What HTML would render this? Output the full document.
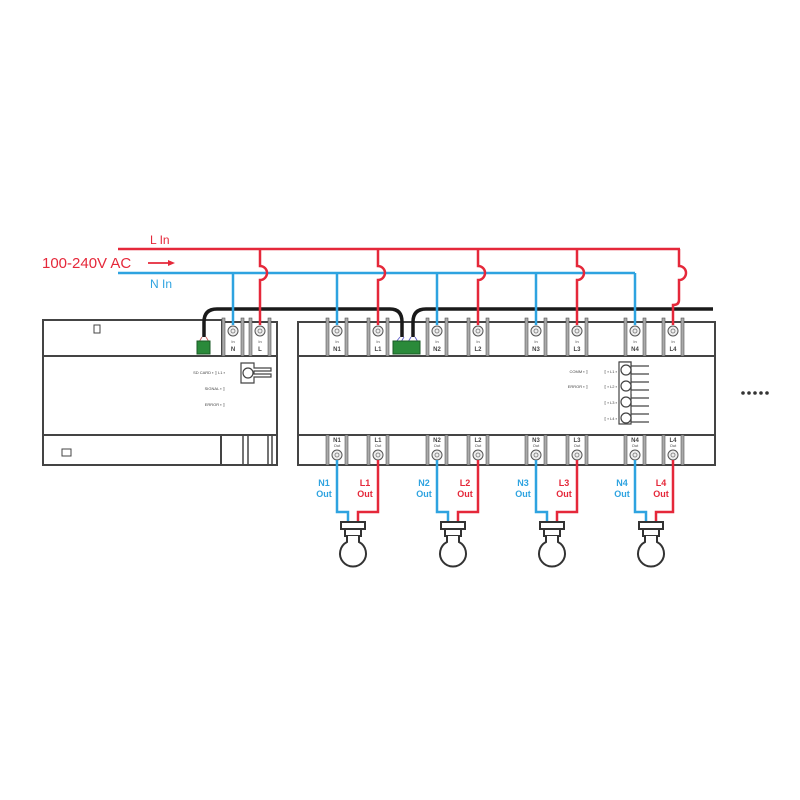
<!DOCTYPE html>
<html><head><meta charset="utf-8"><style>
html,body{margin:0;padding:0;background:#fff;width:800px;height:800px;overflow:hidden}
svg{display:block}
text{font-family:"Liberation Sans",sans-serif}
</style></head><body>
<svg width="800" height="800" viewBox="0 0 800 800" xmlns="http://www.w3.org/2000/svg">
<defs>
<g id="tt">
 <rect x="-11" y="318" width="3" height="38" fill="#aaa" stroke="#555" stroke-width="0.6"/>
 <rect x="8" y="318" width="3" height="38" fill="#aaa" stroke="#555" stroke-width="0.6"/>
 <circle cx="0" cy="331" r="5" fill="#eee" stroke="#555" stroke-width="1"/>
 <circle cx="0" cy="331" r="2" fill="none" stroke="#777" stroke-width="0.8"/>
</g>
<g id="tb">
 <rect x="-11" y="435" width="3" height="30" fill="#aaa" stroke="#555" stroke-width="0.6"/>
 <rect x="8" y="435" width="3" height="30" fill="#aaa" stroke="#555" stroke-width="0.6"/>
 <circle cx="0" cy="455" r="5" fill="#eee" stroke="#555" stroke-width="1"/>
 <circle cx="0" cy="455" r="2" fill="none" stroke="#777" stroke-width="0.8"/>
</g>
<g id="bulb">
 <rect x="-12" y="522" width="24" height="7" fill="#fff" stroke="#333" stroke-width="2"/>
 <rect x="-8" y="529" width="16" height="7" fill="#fff" stroke="#333" stroke-width="2"/>
 <path d="M-6 536 L-6 542 A13 13 0 1 0 6 542 L6 536" fill="#fff" stroke="#333" stroke-width="2"/>
</g>
</defs>

<!-- Left device -->
<g fill="none" stroke="#444" stroke-width="2">
 <rect x="43" y="320" width="179" height="36"/>
 <rect x="43" y="356" width="234" height="79"/>
 <rect x="43" y="435" width="178" height="30"/>
 <path d="M222 322 H277 V356 M221 435 H277 V465 H221"/>
 <rect x="94" y="325" width="6" height="8" stroke-width="1"/>
 <rect x="62" y="449" width="9" height="7" stroke-width="1"/>
</g>
<use href="#tt" x="233"/><use href="#tt" x="260"/>
<use href="#tb" x="245" transform="translate(0,0)" opacity="0"/>
<g stroke="#444" stroke-width="1.5"><line x1="243" y1="435" x2="243" y2="465"/><line x1="248" y1="435" x2="248" y2="465"/><line x1="268" y1="435" x2="268" y2="465"/><line x1="272" y1="435" x2="272" y2="465"/></g>
<text x="233" y="343" font-size="4" text-anchor="middle" fill="#444">In</text>
<text x="233" y="351" font-size="6" text-anchor="middle" fill="#444" font-weight="bold">N</text>
<text x="260" y="343" font-size="4" text-anchor="middle" fill="#444">In</text>
<text x="260" y="351" font-size="6" text-anchor="middle" fill="#444" font-weight="bold">L</text>
<text x="225" y="374" font-size="4" text-anchor="end" fill="#444">SD CARD ▪ ▯ L1 ▪</text>
<text x="225" y="390" font-size="4" text-anchor="end" fill="#444">SIGNAL ▪ ▯</text>
<text x="225" y="406" font-size="4" text-anchor="end" fill="#444">ERROR ▪ ▯</text>
<g fill="#fff" stroke="#444" stroke-width="1.2">
 <path d="M241 363 H254 V368 H271 V371 H254 V374 H271 V377 H254 V383 H241 Z"/>
 <circle cx="248" cy="373" r="5"/>
</g>

<!-- Right device -->
<g fill="none" stroke="#444" stroke-width="2">
 <rect x="298" y="322" width="417" height="143"/>
 <line x1="298" y1="356" x2="715" y2="356"/>
 <line x1="298" y1="435" x2="715" y2="435"/>
</g>
<use href="#tt" x="337"/><use href="#tt" x="378"/><use href="#tt" x="437"/><use href="#tt" x="478"/>
<use href="#tt" x="536"/><use href="#tt" x="577"/><use href="#tt" x="635"/><use href="#tt" x="673"/>
<use href="#tb" x="337"/><use href="#tb" x="378"/><use href="#tb" x="437"/><use href="#tb" x="478"/>
<use href="#tb" x="536"/><use href="#tb" x="577"/><use href="#tb" x="635"/><use href="#tb" x="673"/>
<g font-size="4" text-anchor="middle" fill="#444">
 <text x="337" y="343">In</text><text x="378" y="343">In</text><text x="437" y="343">In</text><text x="478" y="343">In</text>
 <text x="536" y="343">In</text><text x="577" y="343">In</text><text x="635" y="343">In</text><text x="673" y="343">In</text>
 <text x="337" y="447">Out</text><text x="378" y="447">Out</text><text x="437" y="447">Out</text><text x="478" y="447">Out</text>
 <text x="536" y="447">Out</text><text x="577" y="447">Out</text><text x="635" y="447">Out</text><text x="673" y="447">Out</text>
</g>
<g font-size="6" text-anchor="middle" fill="#444" font-weight="bold">
 <text x="337" y="351">N1</text><text x="378" y="351">L1</text><text x="437" y="351">N2</text><text x="478" y="351">L2</text>
 <text x="536" y="351">N3</text><text x="577" y="351">L3</text><text x="635" y="351">N4</text><text x="673" y="351">L4</text>
 <text x="337" y="442">N1</text><text x="378" y="442">L1</text><text x="437" y="442">N2</text><text x="478" y="442">L2</text>
 <text x="536" y="442">N3</text><text x="577" y="442">L3</text><text x="635" y="442">N4</text><text x="673" y="442">L4</text>
</g>
<g font-size="4" fill="#444" text-anchor="end">
 <text x="588" y="373">COMM ▪ ▯</text><text x="588" y="388">ERROR ▪ ▯</text>
 <text x="617" y="373">▯ ▪ L1 ▪</text><text x="617" y="388">▯ ▪ L2 ▪</text>
 <text x="617" y="404">▯ ▪ L3 ▪</text><text x="617" y="420">▯ ▪ L4 ▪</text>
</g>
<g fill="#fff" stroke="#444" stroke-width="1.2">
 <path d="M619 362 H631 V366 H649 M631 369 V374 H649 M631 378 V382 H649 M631 385 V390 H649 M631 394 V398 H649 M631 401 V406 H649 M631 410 V414 H649 M631 417 V422 H649" fill="none"/>
 <rect x="619" y="362" width="12" height="62" fill="#fff"/>
 <circle cx="626" cy="370" r="5"/><circle cx="626" cy="386" r="5"/><circle cx="626" cy="402" r="5"/><circle cx="626" cy="418" r="5"/>
</g>

<!-- black cables -->
<g fill="none" stroke="#1a1a1a" stroke-width="3.5">
 <path d="M204 337 V322 Q204 309 217 309 H390 Q402 309 402 322 V337"/>
 <path d="M413 337 V322 Q413 309 426 309 H713"/>
</g>
<g stroke-width="1"><path d="M202 337 L199 342 M206 337 L209 342" stroke="#c66"/><path d="M404 337 L401 342 M400 337 L396 342 M411 337 L408 342 M415 337 L418 342" stroke="#66c"/></g>
<rect x="197" y="341" width="13" height="13" fill="#2a8a3a" stroke="#1a5a25"/>
<rect x="393" y="341" width="27" height="13" fill="#2a8a3a" stroke="#1a5a25"/>

<!-- mains lines -->
<g fill="none" stroke-width="2.5">
 <path d="M118 273 H635" stroke="#2ea3e0"/>
 <path d="M233 273 V325 M337 273 V325 M437 273 V325 M536 273 V325 M635 273 V325" stroke="#2ea3e0"/>
 <path d="M118 249 H680 M260 249 V266 A6 6 0 0 1 260 280 V325 M378 249 V266 A6 6 0 0 1 378 280 V325 M478 249 V266 A6 6 0 0 1 478 280 V325 M577 249 V266 A6 6 0 0 1 577 280 V325 M679 249 V266 A6 6 0 0 1 679 280 V300 Q679 305 673 305 V325" stroke="#e5283a"/>
</g>
<text x="150" y="244" font-size="12" fill="#e5283a">L In</text>
<text x="42" y="268" font-size="15" fill="#e5283a">100-240V AC</text>
<path d="M148 263 H172" stroke="#e5283a" stroke-width="1.8"/><path d="M168 260 L175 263 L168 266 Z" fill="#e5283a"/>
<text x="150" y="288" font-size="12" fill="#2ea3e0">N In</text>

<!-- outputs -->
<g fill="none" stroke-width="2.5">
 <path d="M337 460 V512 H348 V524 M437 460 V512 H448 V524 M536 460 V512 H547 V524 M635 460 V512 H646 V524" stroke="#2ea3e0"/>
 <path d="M378 460 V512 H358 V524 M478 460 V512 H458 V524 M577 460 V512 H557 V524 M673 460 V512 H656 V524" stroke="#e5283a"/>
</g>
<use href="#bulb" x="353"/><use href="#bulb" x="453"/><use href="#bulb" x="552"/><use href="#bulb" x="651"/>
<g font-size="9" font-weight="bold" text-anchor="middle">
 <g fill="#2ea3e0"><text x="324" y="486">N1</text><text x="324" y="497">Out</text><text x="424" y="486">N2</text><text x="424" y="497">Out</text><text x="523" y="486">N3</text><text x="523" y="497">Out</text><text x="622" y="486">N4</text><text x="622" y="497">Out</text></g>
 <g fill="#e5283a"><text x="365" y="486">L1</text><text x="365" y="497">Out</text><text x="465" y="486">L2</text><text x="465" y="497">Out</text><text x="564" y="486">L3</text><text x="564" y="497">Out</text><text x="661" y="486">L4</text><text x="661" y="497">Out</text></g>
</g>
<g fill="#333"><circle cx="743" cy="393" r="1.8"/><circle cx="749" cy="393" r="1.8"/><circle cx="755" cy="393" r="1.8"/><circle cx="761" cy="393" r="1.8"/><circle cx="767" cy="393" r="1.8"/></g>
</svg>
</body></html>
